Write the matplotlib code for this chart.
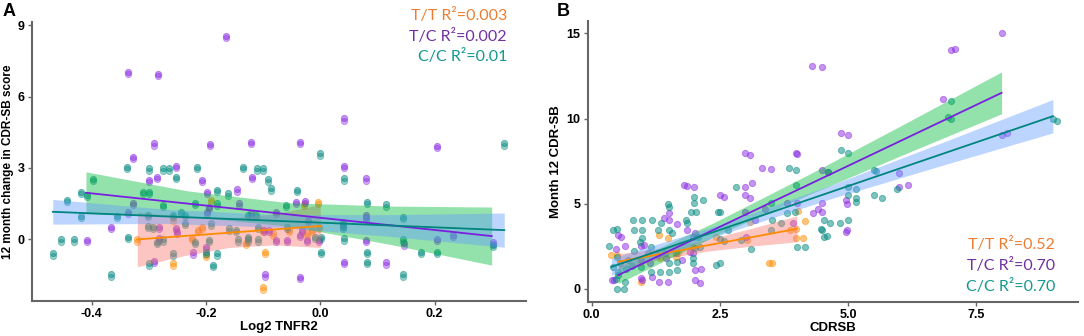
import numpy as np
import matplotlib
matplotlib.use("Agg")
import matplotlib.pyplot as plt
import matplotlib.transforms as mtransforms

plt.rcParams['font.family'] = ['Liberation Sans', 'DejaVu Sans']

groups = ['T/T', 'T/C', 'C/C']
pt_colors = {'T/T': '#FF8C00', 'T/C': '#8A2BE2', 'C/C': '#00897F'}
line_colors = {'T/T': '#FF8C00', 'T/C': '#7A1FE0', 'C/C': '#00857E'}
band_colors = {'T/T': '#F8766D', 'T/C': '#00BA38', 'C/C': '#619CFF'}
text_colors = {'T/T': '#ED7D31', 'T/C': '#7030A0', 'C/C': '#13988F'}

# ---- panel A: Log2 TNFR2 vs 12 month change in CDR-SB ----
a_tt_x = [-0.32, -0.258, -0.214, -0.207, -0.192, -0.2, -0.258, -0.13, -0.101, -0.097,
          -0.101, -0.028, -0.004, -0.015, -0.003, -0.024, -0.054, -0.082, -0.225]
a_tt_y = [0.0, 0.88, 0.39, 0.53, 1.65, -0.66, -1.01, -0.14, 0.39, -0.52,
          -2.02, 1.48, 1.58, 0.39, 0.53, 0.25, 0.39, 0.25, 0.07]

a_tc_x = [-0.165, -0.337, -0.284, 0.042, -0.122, -0.035, -0.291, -0.193, 0.205, 0.042,
          -0.253, -0.328, -0.119, 0.08, -0.285, -0.3, -0.207, -0.199, -0.145, -0.142,
          -0.042, -0.026, -0.328, -0.337, -0.198, -0.122, -0.077, 0.08, 0.08, -0.022,
          -0.366, -0.283, -0.252, -0.098, -0.089, -0.032, 0.04, -0.409, -0.283, -0.077,
          -0.059, -0.023, -0.002, 0.08, 0.205, 0.232, 0.303, 0.146, -0.222, -0.291,
          0.042, 0.115, -0.097, -0.036, -0.2, -0.25, -0.195, -0.035]
a_tc_y = [8.56, 7.04, 6.95, 5.08, 4.1, 4.1, 4.03, 4.0, 3.94, 3.1,
          3.1, 3.47, 2.63, 2.56, 2.63, 2.49, 2.49, 2.0, 2.1, 1.51,
          1.58, 1.62, 1.54, 1.16, 1.16, 1.09, 1.16, 1.02, 0.88, 0.81,
          0.53, 0.53, 0.49, 0.39, 0.39, 0.39, 0.6, -0.03, 0.04, -0.03,
          -0.03, -0.03, -0.03, -0.03, 0.01, 0.18, -0.1, -0.17, -0.55, -0.91,
          -0.94, -0.97, -1.47, -1.57, -0.31, 0.32, 1.37, 0.18]

a_cc_x = [0.322, 0.0, -0.338, -0.3, -0.276, -0.264, -0.215, -0.135, -0.11, -0.101,
          -0.252, -0.398, 0.042, -0.091, -0.181, -0.161, -0.086, -0.041, -0.418, -0.31,
          -0.3, -0.409, -0.444, -0.22, -0.18, -0.275, 0.081, 0.115, -0.06, -0.419,
          -0.356, -0.301, -0.258, -0.244, -0.236, -0.126, -0.113, 0.145, -0.301, -0.293,
          -0.237, -0.191, -0.159, -0.109, -0.059, 0.04, 0.04, -0.454, -0.431, -0.337,
          -0.276, -0.219, -0.195, -0.144, -0.126, -0.109, -0.01, 0.001, 0.042, 0.145,
          -0.468, -0.285, -0.258, -0.2, -0.181, 0.001, 0.081, 0.177, 0.205, -0.3,
          -0.187, 0.081, -0.366, 0.145, 0.303, -0.148, -0.126]
a_cc_y = [4.03, 3.61, 3.05, 2.98, 2.98, 2.98, 3.05, 3.05, 2.98, 2.98,
          2.63, 2.53, 2.56, 2.52, 2.07, 1.93, 2.14, 2.07, 2.0, 2.0,
          2.0, 1.86, 1.65, 1.54, 1.51, 1.44, 1.58, 1.47, 1.44, 0.98,
          0.98, 1.02, 1.02, 1.16, 1.02, 1.02, 1.02, 0.95, 0.56, 0.53,
          0.7, 0.67, 0.46, 0.53, 0.53, 0.53, 0.74, 0.0, 0.0, 0.11,
          0.0, -0.1, -0.03, 0.0, 0.0, 0.0, 0.11, 0.11, 0.04, 0.0,
          -0.59, -0.1, -0.59, -0.52, -0.59, -0.52, -0.52, -0.52, -0.52, -1.01,
          -1.08, -0.94, -1.47, -1.47, -0.24, 0.39, 0.11]

# fitted lines with 95% CI
a_fit = {
    'T/T': dict(x=[-0.32, -0.24, -0.16, -0.08, 0.0],
                y=[0.0, 0.14, 0.28, 0.42, 0.56],
                lo=[-1.15, -0.69, -0.34, -0.23, -0.34],
                hi=[1.15, 0.97, 0.90, 1.07, 1.46]),
    'T/C': dict(x=[-0.41, -0.2325, -0.055, 0.1225, 0.30],
                y=[1.96, 1.505, 1.05, 0.595, 0.14],
                lo=[1.08, 0.97, 0.56, -0.21, -1.08],
                hi=[2.84, 2.04, 1.54, 1.40, 1.36]),
    'C/C': dict(x=[-0.468, -0.2705, -0.073, 0.1245, 0.322],
                y=[1.16, 0.967, 0.775, 0.582, 0.39],
                lo=[0.64, 0.67, 0.51, 0.12, -0.33],
                hi=[1.68, 1.27, 1.04, 1.04, 1.11]),
}
a_r2 = ['0.003', '0.002', '0.01']

# ---- panel B: CDRSB vs Month 12 CDR-SB ----
b_tt_x = [0.37, 0.5, 1.32, 1.49, 0.96, 0.96, 1.33, 1.69, 2.43, 3.09,
          3.45, 3.51, 3.86, 3.99, 3.99, 4.12, 4.03, 4.16, 3.02, 1.97, 1.64]
b_tt_y = [1.98, 1.98, 3.15, 3.0, 1.59, 0.41, 1.78, 2.08, 3.05, 3.94,
          1.49, 1.49, 3.45, 3.49, 2.96, 2.96, 4.58, 3.99, 2.86, 2.47, 1.88]

b_tc_x = [7.99, 7.0, 7.09, 4.3, 4.5, 6.85, 4.86, 4.99, 7.99, 8.1,
          2.99, 3.09, 3.99, 4.0, 3.32, 3.49, 4.5, 4.6, 1.8, 1.87,
          1.99, 3.0, 3.12, 5.99, 6.16, 6.0, 2.5, 2.58, 3.0, 3.09,
          4.95, 4.98, 4.5, 3.8, 4.0, 3.38, 4.42, 4.5, 2.99, 3.18,
          4.32, 1.5, 1.42, 1.5, 1.67, 1.87, 2.01, 1.97, 3.01, 4.98,
          4.95, 3.93, 0.52, 0.57, 0.66, 0.47, 0.96, 1.03, 1.3, 1.45,
          1.77, 1.91, 1.97, 0.96, 1.13, 0.39, 0.43, 0.96, 0.99, 1.32,
          1.49, 2.01, 2.12, 2.13, 2.01, 1.18]
b_tc_y = [15.0, 14.0, 14.1, 13.1, 13.04, 11.12, 9.16, 9.03, 9.03, 9.18,
          7.99, 7.85, 7.99, 7.9, 7.07, 7.01, 6.97, 6.87, 6.09, 6.05,
          5.99, 5.99, 6.19, 5.99, 6.09, 6.81, 5.5, 5.4, 5.5, 5.35,
          5.21, 4.97, 5.01, 5.01, 5.01, 4.66, 4.66, 4.52, 4.52, 4.03,
          4.43, 4.43, 4.13, 4.03, 3.8, 3.45, 3.25, 3.05, 3.02, 3.45,
          3.35, 3.88, 3.15, 3.05, 2.51, 2.31, 2.51, 2.57, 1.98, 1.78,
          1.68, 2.17, 2.08, 1.68, 1.49, 0.51, 0.51, 0.61, 0.51, 0.41,
          0.41, 0.51, 0.35, 1.19, 1.1, 0.7]

b_cc_x = [9.07, 8.99, 7.0, 6.94, 7.0, 4.86, 4.99, 3.85, 3.99, 3.99,
          4.61, 5.5, 5.54, 4.99, 5.15, 5.15, 5.15, 5.66, 5.5, 5.95,
          4.99, 2.82, 2.18, 1.99, 1.99, 1.49, 1.51, 2.46, 2.51, 1.93,
          2.03, 3.49, 3.8, 3.97, 3.51, 3.7, 4.53, 4.64, 4.85, 4.99,
          4.47, 4.49, 4.53, 4.58, 4.0, 4.15, 3.11, 3.49, 2.65, 2.51,
          2.58, 2.91, 2.43, 2.5, 1.18, 0.99, 0.81, 1.3, 0.82, 0.41,
          0.5, 0.99, 1.5, 1.84, 1.87, 1.57, 1.36, 0.99, 0.95, 0.35,
          0.82, 1.15, 1.11, 1.65, 2.01, 2.11, 0.5, 0.72, 0.55, 0.79,
          0.42, 0.68, 0.52, 1.5, 1.67, 1.97, 1.5, 1.33, 1.67, 1.16,
          0.96, 0.47, 0.52, 0.66, 0.5, 0.64, 1.43, 1.97, 2.07]
b_cc_y = [9.87, 10.0, 11.04, 10.1, 10.0, 8.15, 7.99, 7.07, 6.97, 6.09,
          6.87, 6.97, 6.91, 5.99, 5.89, 5.31, 5.11, 5.31, 5.5, 5.89,
          5.5, 5.99, 5.21, 5.4, 5.01, 4.97, 4.82, 4.52, 4.5, 4.52,
          4.52, 5.01, 4.43, 4.52, 4.03, 3.84, 4.03, 3.88, 3.88, 4.03,
          3.54, 3.45, 3.02, 3.09, 2.47, 2.47, 2.31, 3.45, 3.45, 2.9,
          2.82, 2.86, 1.39, 1.49, 4.07, 4.03, 4.07, 3.45, 3.45, 3.45,
          3.49, 3.45, 3.45, 4.07, 3.88, 3.25, 3.84, 2.96, 2.76, 2.51,
          2.23, 2.47, 2.08, 2.08, 2.37, 2.47, 1.84, 1.68, 1.49, 1.35,
          1.29, 1.19, 0.99, 1.49, 1.59, 1.49, 0.99, 0.99, 1.1, 0.99,
          1.29, 0.55, 0.8, 0.41, -0.02, -0.04, 2.08, 1.78, 3.05]

b_fit = {
    'T/T': dict(x=[0.52, 1.39, 2.26, 3.13, 4.0],
                y=[1.59, 2.072, 2.555, 3.037, 3.52],
                lo=[1.12, 1.76, 2.21, 2.51, 2.76],
                hi=[2.06, 2.39, 2.90, 3.56, 4.28]),
    'T/C': dict(x=[0.52, 2.3875, 4.255, 6.1225, 7.99],
                y=[0.8, 3.477, 6.154, 8.832, 11.51],
                lo=[0.31, 3.07, 5.56, 7.94, 10.28],
                hi=[1.29, 3.89, 6.75, 9.73, 12.74]),
    'C/C': dict(x=[0.39, 2.54, 4.69, 6.84, 8.99],
                y=[1.29, 3.502, 5.715, 7.927, 10.14],
                lo=[0.79, 3.195, 5.314, 7.257, 9.16],
                hi=[1.79, 3.809, 6.116, 8.597, 11.12]),
}
b_r2 = ['0.52', '0.70', '0.70']

a_xticks = [-0.4, -0.2, 0.0, 0.2]
a_yticks = [0, 3, 6, 9]
b_xticks = [0.0, 2.5, 5.0, 7.5]
b_yticks = [0, 5, 10, 15]


def style_axes(ax, xt, xfmt, yt):
    for s in ['top', 'right']:
        ax.spines[s].set_visible(False)
    for s in ['left', 'bottom']:
        ax.spines[s].set_color('#666666')
        ax.spines[s].set_linewidth(1.5)
    ax.set_xticks(xt, [xfmt % v for v in xt], fontweight='bold', fontsize=9)
    ax.set_yticks(yt, [str(v) for v in yt], fontweight='bold', fontsize=9)
    ax.tick_params(colors='#666666', length=3, width=1, labelcolor='black', pad=2)


def draw_panel(ax, pts, fits, double):
    for g, (xs, ys) in zip(groups, pts):
        ax.scatter(xs, ys, s=20, color=pt_colors[g], alpha=0.5, linewidths=0.7,
                   edgecolors=pt_colors[g], zorder=2)
        if double:
            off = mtransforms.offset_copy(ax.transData, fig=ax.figure, x=0, y=-2.3, units='dots')
            ax.scatter(xs, ys, s=20, color=pt_colors[g], alpha=0.4, linewidths=0.7,
                       edgecolors=pt_colors[g], zorder=2, transform=off)
    for g in groups:
        f = fits[g]
        ax.fill_between(f['x'], f['lo'], f['hi'], color=band_colors[g], alpha=0.42,
                        linewidth=0, zorder=3)
    for g in groups:
        f = fits[g]
        ax.plot(f['x'], f['y'], color=line_colors[g], lw=1.3, zorder=4)


fig = plt.figure(figsize=(10.84, 3.36), dpi=100)

axA = fig.add_axes([0.0292, 0.104, 0.456, 0.831])
draw_panel(axA, [(a_tt_x, a_tt_y), (a_tc_x, a_tc_y), (a_cc_x, a_cc_y)], a_fit, True)
axA.set_xlim(-0.505, 0.36)
axA.set_ylim(-2.59, 9.14)
style_axes(axA, a_xticks, '%.1f', a_yticks)
axA.set_xlabel('Log2 TNFR2', fontsize=9.5, fontweight='bold', labelpad=1)
axA.set_ylabel('12 month change in CDR-SB score', fontsize=8.5, fontweight='bold', labelpad=3)

axB = fig.add_axes([0.542, 0.102, 0.4525, 0.836])
draw_panel(axB, [(b_tt_x, b_tt_y), (b_tc_x, b_tc_y), (b_cc_x, b_cc_y)], b_fit, False)
axB.set_xlim(-0.078, 9.48)
axB.set_ylim(-0.76, 15.74)
style_axes(axB, b_xticks, '%.1f', b_yticks)
axB.set_xlabel('CDRSB', fontsize=9.5, fontweight='bold', labelpad=1)
axB.set_ylabel('Month 12 CDR-SB', fontsize=9.5, fontweight='bold', labelpad=3)

fig.text(9 / 1084, 1 - 12 / 336, 'A', fontsize=13, fontweight='bold', ha='center', va='center')
fig.text(563 / 1084, 1 - 11 / 336, 'B', fontsize=13, fontweight='bold', ha='center', va='center')

for i, g in enumerate(groups):
    fig.text(507 / 1084, 1 - (15.7 + 20.3 * i) / 336, f'{g} R\u00b2={a_r2[i]}',
             color=text_colors[g], fontsize=11.5, family=['Lato', 'DejaVu Sans'],
             ha='right', va='center')
    fig.text(1055 / 1084, 1 - (245 + 20.8 * i) / 336, f'{g} R\u00b2={b_r2[i]}',
             color=text_colors[g], fontsize=11.5, family=['Lato', 'DejaVu Sans'],
             ha='right', va='center')

fig.savefig('out.png', dpi=100)
